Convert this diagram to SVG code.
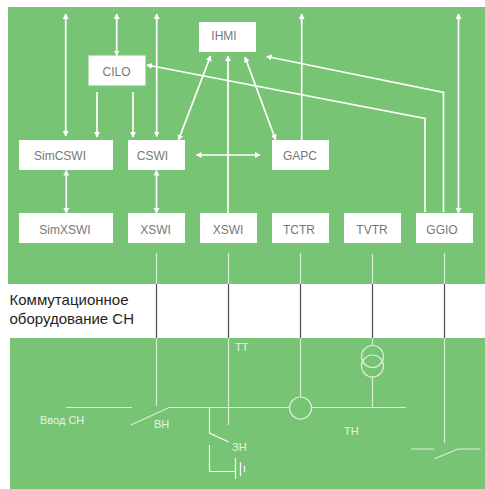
<svg xmlns="http://www.w3.org/2000/svg" width="485" height="489" viewBox="0 0 485 489">
<style>
.box{fill:#fff}
.lbl{font-family:"Liberation Sans",Arial,sans-serif;font-size:12px;fill:#77787b;text-anchor:middle}
.con{fill:none;stroke:#fff;stroke-width:1.7}
.arr{marker-end:url(#h)}
.both{marker-start:url(#hs);marker-end:url(#h)}
.pl{fill:none;stroke:#dcedd6;stroke-width:1.2}
.wh{fill:none;stroke:#f4faf2;stroke-width:1.2}
.dk{fill:none;stroke:#4a4b4d;stroke-width:1.2}
.small{font-family:"Liberation Sans",Arial,sans-serif;font-size:11px;fill:#e6f3e2}
.head{font-family:"Liberation Sans",Arial,sans-serif;font-size:15px;fill:#231f20}
</style>
<defs>
<marker id="h" markerUnits="userSpaceOnUse" markerWidth="7" markerHeight="7" refX="5" refY="3" orient="auto"><path d="M0 0L5.500 3L0 6Z" fill="#fff"/></marker>
<marker id="hs" markerUnits="userSpaceOnUse" markerWidth="7" markerHeight="7" refX="0.500" refY="3" orient="auto"><path d="M5.500 0L0 3L5.500 6Z" fill="#fff"/></marker>
</defs>
<rect width="485" height="489" fill="#fff"/>
<rect x="8" y="7" width="477" height="277" fill="#78c475"/>
<rect x="10" y="338" width="475" height="151" fill="#78c475"/>
<g id="connectors">
<path class="con both" d="M65.700 14V136"/>
<path class="con both" d="M116.700 14V55.500"/>
<path class="con both" d="M156.700 14V136.500"/>
<path class="con arr" d="M97 92V137"/>
<path class="con arr" d="M133 92V137"/>
<path class="con both" d="M66.300 170.500V213"/>
<path class="con both" d="M156.500 170.500V213"/>
<path class="con both" d="M210.500 56L178.500 140"/>
<path class="con arr" d="M228 213V56"/>
<path class="con both" d="M245 57L275.500 139.500"/>
<path class="con both" d="M196.500 155H260"/>
<path class="con arr" d="M301.700 140V14"/>
<path class="con arr" d="M425 212V118.500L147 65"/>
<path class="con arr" d="M443.500 212V92.500L266.700 56.500"/>
<path class="con both" d="M458.500 14V213"/>
<path class="pl" d="M156.500 253V284M156.500 338V406M228.500 253V284M228.500 338V425M300.500 253V284M300.500 338V397M372.500 254V284M372.500 338V345M372.500 376V407.500M444.500 253V284M444.500 338V443"/>
<path class="dk" d="M156.500 284V338M228.500 284V338M300.500 284V338M372.500 284V338M444.500 284V338"/>
<path class="pl" d="M66 407.500H132M131 425L169 407.500H289.500M311.500 407.500H406M411 449H434M434 459L458 449H480.500"/>
<path class="wh" d="M209.500 408V433L228.700 442M209.500 445V471.500H235.500M235.500 458V479M240.500 462V476M244.500 466V472"/>
<circle class="pl" cx="300.500" cy="408" r="11"/>
<circle class="pl" cx="372.500" cy="356.500" r="11"/>
<circle class="pl" cx="372.500" cy="366" r="11"/>
</g>
<g id="IHMI"><rect class="box" x="199" y="22" width="57" height="30"/><text class="lbl" x="224" y="40">IHMI</text></g>
<g id="CILO"><rect class="box" x="88.500" y="55.500" width="57" height="30"/><text class="lbl" x="116.500" y="76">CILO</text></g>
<g id="SimCSWI"><rect class="box" x="19" y="140" width="94" height="30"/><text class="lbl" x="60" y="160">SimCSWI</text></g>
<g id="CSWI"><rect class="box" x="128" y="140" width="57" height="30"/><text class="lbl" x="152.500" y="160">CSWI</text></g>
<g id="GAPC"><rect class="box" x="272" y="140" width="57" height="30"/><text class="lbl" x="300" y="160">GAPC</text></g>
<g id="SimXSWI"><rect class="box" x="19" y="213" width="94" height="30"/><text class="lbl" x="65" y="234">SimXSWI</text></g>
<g id="XSWI1"><rect class="box" x="128" y="213" width="57" height="30"/><text class="lbl" x="155.500" y="234">XSWI</text></g>
<g id="XSWI2"><rect class="box" x="200" y="213" width="57" height="30"/><text class="lbl" x="228" y="234">XSWI</text></g>
<g id="TCTR"><rect class="box" x="272" y="213" width="57" height="30"/><text class="lbl" x="299" y="234">TCTR</text></g>
<g id="TVTR"><rect class="box" x="344" y="213" width="57" height="30"/><text class="lbl" x="372" y="234">TVTR</text></g>
<g id="GGIO"><rect class="box" x="416" y="213" width="57" height="30"/><text class="lbl" x="442" y="234">GGIO</text></g>
<g id="labels">
<text class="head" x="9.500" y="305">Коммутационное</text>
<text class="head" x="9.500" y="324">оборудование СН</text>
<text class="small" x="235" y="351">ТТ</text>
<text class="small" x="40" y="424">Ввод СН</text>
<text class="small" x="154" y="428">ВН</text>
<text class="small" x="232" y="451">ЗН</text>
<text class="small" x="344" y="435">ТН</text>
</g>
</svg>
